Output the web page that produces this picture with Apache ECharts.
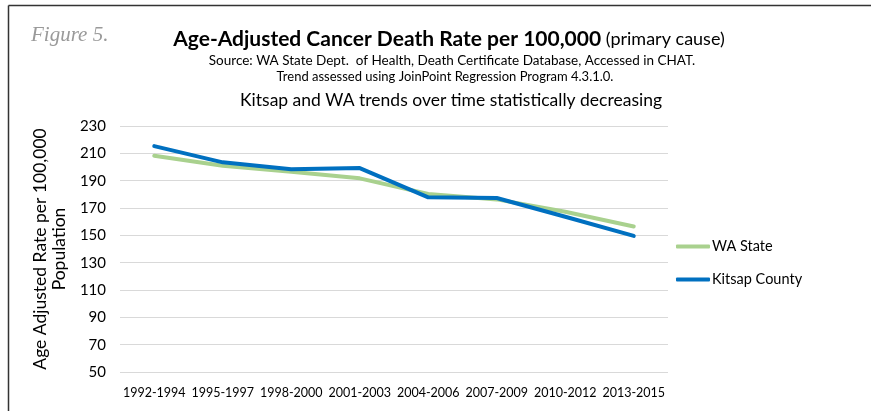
<!DOCTYPE html>
<html>
<head>
<meta charset="utf-8">
<script src="https://cdn.jsdelivr.net/npm/echarts@6/dist/echarts.min.js"></script>
<style>
  html, body { margin: 0; padding: 0; background: #fff; }
  #chart { width: 871px; height: 411px; }
</style>
</head>
<body>
<div id="chart"></div>
<script>
const periods = ["1992-1994", "1995-1997", "1998-2000", "2001-2003", "2004-2006", "2007-2009", "2010-2012", "2013-2015"];
const waState = [208.2, 200.9, 196.5, 191.7, 180.2, 176.3, 167.2, 156.5];
const kitsap = [215.3, 203.4, 198.3, 199.2, 177.8, 177.3, 163.6, 149.6];

const font = "Lato";
const chart = echarts.init(document.getElementById("chart"), null, { renderer: "canvas" });

chart.setOption({
  animation: false,
  textStyle: { fontFamily: font },
  title: [
    {
      text: "{b|Age-Adjusted Cancer Death Rate per 100,000} {n|(primary cause)}",
      left: 444, top: 24, textAlign: "center",
      textStyle: {
        fontWeight: "normal",
        rich: {
          b: { fontFamily: font, fontWeight: "bold", fontSize: 21, color: "#000" },
          n: { fontFamily: font, fontWeight: "normal", fontSize: 18, color: "#000" }
        }
      }
    },
    {
      text: "Source: WA State Dept.  of Health, Death Certificate Database, Accessed in CHAT.",
      left: 447, top: 49, textAlign: "center",
      textStyle: { fontFamily: font, fontSize: 13.5, fontWeight: "normal", color: "#000" }
    },
    {
      text: "Trend assessed using JoinPoint Regression Program 4.3.1.0.",
      left: 440, top: 65, textAlign: "center",
      textStyle: { fontFamily: font, fontSize: 13, fontWeight: "normal", color: "#000" }
    },
    {
      text: "Kitsap and WA trends over time statistically decreasing",
      left: 446, top: 86, textAlign: "center",
      textStyle: { fontFamily: font, fontSize: 17.5, fontWeight: "normal", color: "#000" }
    },
    {
      text: "Figure 5.",
      left: 26, top: 20,
      textStyle: { fontFamily: "Liberation Serif", fontStyle: "italic", fontSize: 21, fontWeight: "normal", color: "#9a9a9a" }
    }
  ],
  graphic: [
    { type: "line", shape: { x1: 8.5, y1: 5.5, x2: 871, y2: 5.5 }, style: { stroke: "#333", lineWidth: 1.5 } },
    { type: "line", shape: { x1: 8.5, y1: 5.5, x2: 8.5, y2: 411 }, style: { stroke: "#333", lineWidth: 1.5 } }
  ],
  legend: {
    orient: "vertical",
    left: 671, top: 234,
    itemWidth: 34, itemHeight: 4, itemGap: 18,
    icon: "roundRect",
    textStyle: { fontFamily: font, fontSize: 14.5, color: "#000", padding: [0, 0, 0, -3] },
    data: ["WA State", "Kitsap County"]
  },
  grid: { left: 120, right: 203, top: 126, bottom: 39, containLabel: false },
  xAxis: {
    type: "category",
    data: periods,
    boundaryGap: true,
    axisLine: { show: false },
    axisTick: { show: false },
    axisLabel: { fontFamily: font, fontSize: 12.5, color: "#000", margin: 14, interval: 0 }
  },
  yAxis: {
    type: "value",
    min: 50, max: 230, interval: 20,
    name: "Age Adjusted Rate per 100,000\nPopulation",
    nameLocation: "middle",
    nameGap: 45,
    nameTextStyle: { fontFamily: font, fontSize: 17.5, color: "#000", lineHeight: 19, padding: [0, 0, 0, 0] },
    axisLine: { show: false },
    axisTick: { show: false },
    axisLabel: { fontFamily: font, fontSize: 15, color: "#000", margin: 14 },
    splitLine: { lineStyle: { color: "#d9d9d9", width: 1 } }
  },
  series: [
    {
      name: "WA State", type: "line", data: waState,
      symbol: "none", lineStyle: { color: "#A9D18E", width: 4, cap: "round" },
      itemStyle: { color: "#A9D18E" }
    },
    {
      name: "Kitsap County", type: "line", data: kitsap,
      symbol: "none", lineStyle: { color: "#0070C0", width: 4, cap: "round" },
      itemStyle: { color: "#0070C0" }
    }
  ]
});
</script>
</body>
</html>
